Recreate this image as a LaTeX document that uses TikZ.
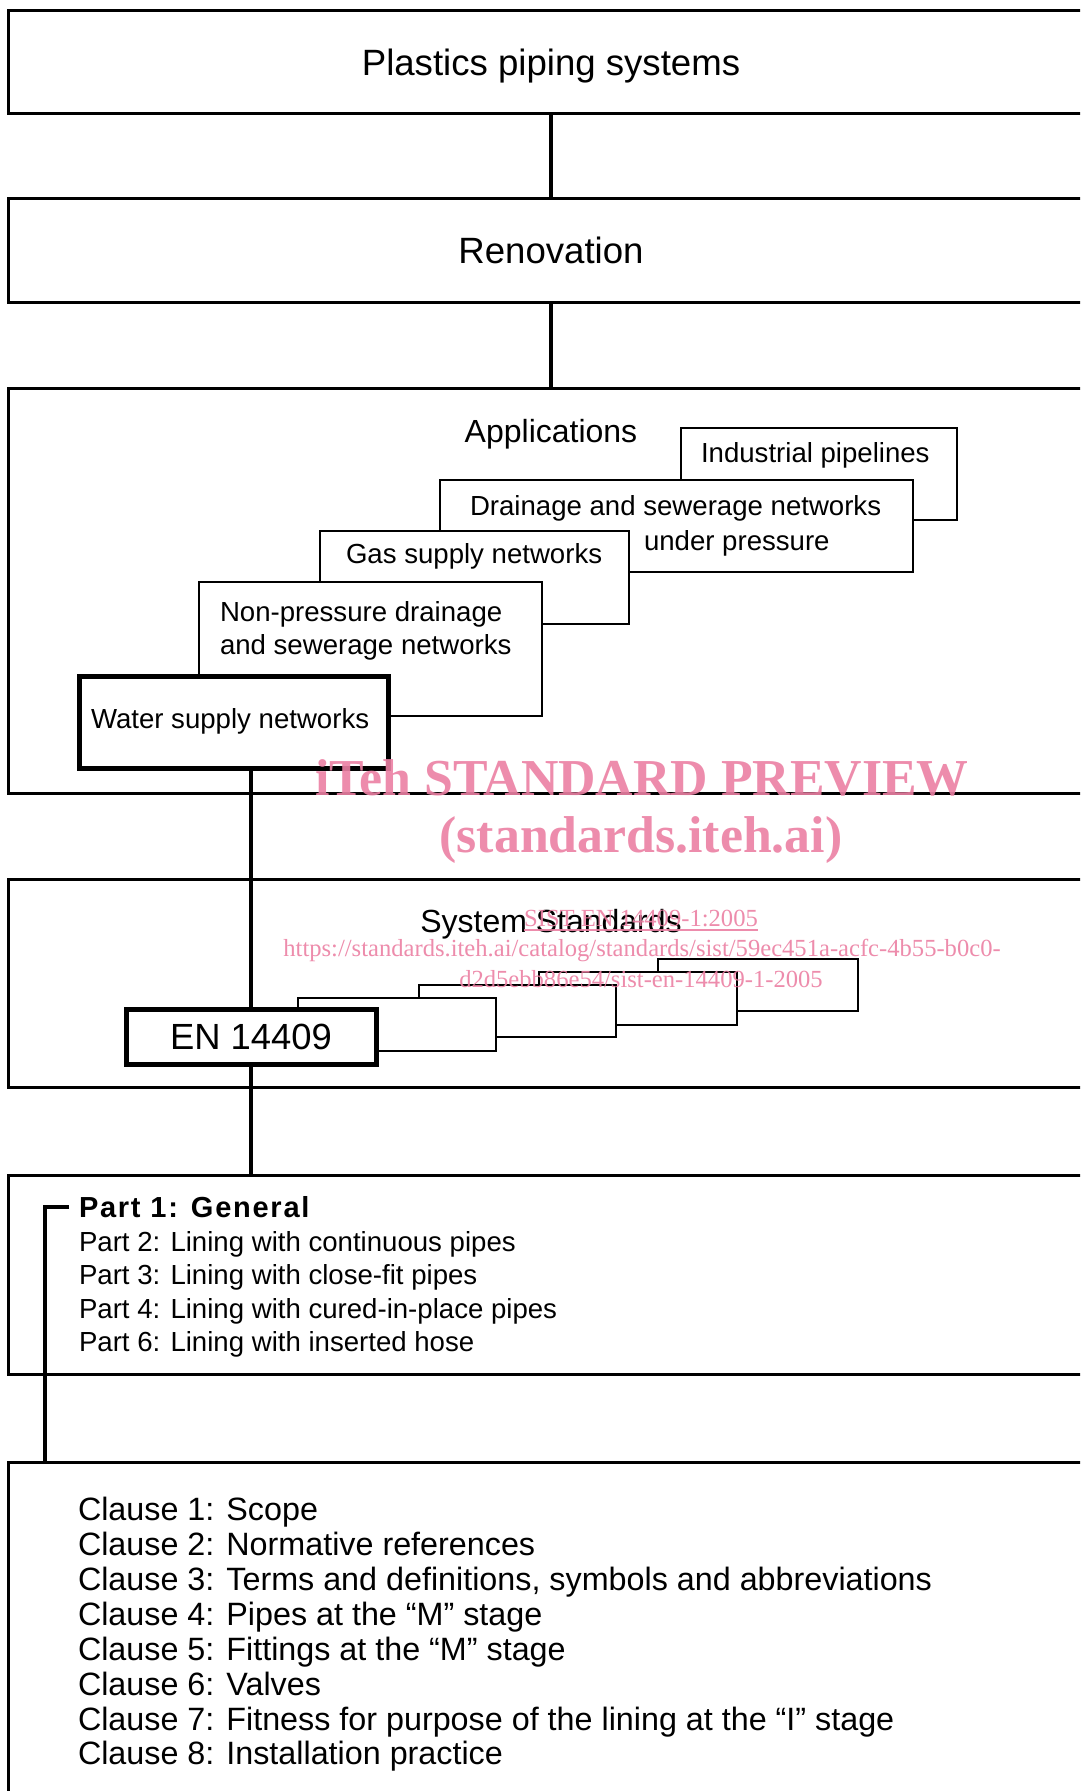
\documentclass[tikz,border=0pt]{standalone}
\usepackage{fontspec}
\setmainfont{Liberation Sans}
\newfontfamily\wmfont{Liberation Serif}
\newfontfamily\spacedsans[LetterSpace=6]{Liberation Sans}
\definecolor{wmpink}{RGB}{236,128,163}

\tikzset{
  mainbox/.style={draw, line width=1.5pt, fill=white, anchor=north west,
    inner sep=0pt, outer sep=0pt, minimum width=543pt},
  appbox/.style={draw, line width=1pt, fill=white, anchor=north west,
    inner sep=0pt, outer sep=0pt},
  keybox/.style={draw, line width=2.5pt, fill=white, anchor=north west,
    inner sep=0pt, outer sep=0pt},
  conn/.style={line width=2pt},
  txt/.style={inner sep=0pt, outer sep=0pt},
  bigtext/.style={txt, font=\fontsize{18.3}{22}\selectfont},
  headtext/.style={txt, font=\fontsize{16}{19}\selectfont},
  smalltext/.style={txt, anchor=base west, font=\fontsize{13.8}{16.5}\selectfont},
  clausetext/.style={txt, anchor=base west, font=\fontsize{16.15}{19}\selectfont},
  wmbig/.style={txt, anchor=base, text=wmpink, text opacity=0.9,
    font=\wmfont\bfseries\fontsize{25.9}{31}\selectfont},
  wmsmall/.style={txt, anchor=base, text=wmpink, text opacity=0.9,
    font=\wmfont\fontsize{12.3}{14.6}\selectfont},
}

\begin{document}
\begin{tikzpicture}[x=0.5pt, y=-0.5pt]
\useasboundingbox (0,0) rectangle (1080,1791);
\fill[white] (0,0) rectangle (1080,1791);
\clip (0,0) rectangle (1080,1791);

% ---- stage boxes ----
\node[mainbox, minimum height=51.5pt] (top) at (8,11) {};
\node[bigtext, anchor=base] (t-top) at (551,75.5) {Plastics piping systems};

\node[mainbox, minimum height=52pt] (reno) at (8,199) {};
\node[bigtext, anchor=base] (t-reno) at (551,264) {Renovation};

\node[mainbox, minimum height=202pt] (apps) at (8,389) {};
\node[headtext, anchor=base] (t-apps) at (551,443) {Applications};

\node[mainbox, minimum height=104pt] (sys) at (8,879) {};
\node[headtext, anchor=base] (t-sys) at (551,932) {System Standards};

\node[mainbox, minimum height=99.5pt] (parts) at (8,1175) {};
\node[mainbox, minimum height=170pt] (clauses) at (8,1462) {};

\draw[conn] (top.south) -- (reno.north);
\draw[conn] (reno.south) -- (apps.north);

% ---- application areas, stacked back to front ----
\node[appbox, minimum width=138pt, minimum height=46pt] (ind) at (681,428) {};
\node[smalltext] (t-ind) at (701,462) {Industrial pipelines};

\node[appbox, minimum width=236.5pt, minimum height=46pt] (drain) at (440,480) {};
\node[smalltext] (t-drain1) at (470,515) {Drainage and sewerage networks};
\node[smalltext] (t-drain2) at (644,550) {under pressure};

\node[appbox, minimum width=154.5pt, minimum height=46.5pt] (gas) at (320,531) {};
\node[smalltext] (t-gas) at (346,563) {Gas supply networks};

\node[appbox, minimum width=171.5pt, minimum height=67pt] (nonp) at (199,582) {};
\node[smalltext] (t-nonp1) at (220,621) {Non-pressure drainage};
\node[smalltext] (t-nonp2) at (220,654) {and sewerage networks};

\node[keybox, minimum width=154.5pt, minimum height=46pt] (water) at (79,676) {};
\node[smalltext] (t-water) at (91,728) {Water supply networks};

% ---- system standards, stacked back to front ----
\node[appbox, minimum width=100pt, minimum height=26pt] (s4) at (658,959) {};
\node[appbox, minimum width=99pt, minimum height=26.5pt] (s3) at (539,972) {};
\node[appbox, minimum width=98.5pt, minimum height=26pt] (s2) at (419,985) {};
\node[appbox, minimum width=99.25pt, minimum height=26.5pt] (s1) at (297.5,998) {};
\node[keybox, minimum width=125pt, minimum height=27.5pt] (en) at (126,1009) {};
\node[bigtext, anchor=base, font=\fontsize{18.2}{22}\selectfont] (t-en) at (251,1049.5) {EN 14409};

\draw[conn] (water.south -| en.north) -- (en.north);
\draw[conn] (en.south) -- (en.south |- parts.north);

% ---- parts ----
\node[smalltext, font=\spacedsans\bfseries\fontsize{14.5}{17}\selectfont] (p1) at (79,1217) {Part 1: General};
\node[smalltext] (p2) at (79,1251) {Part 2: Lining with continuous pipes};
\node[smalltext] (p3) at (79,1284.5) {Part 3: Lining with close-fit pipes};
\node[smalltext] (p4) at (79,1318) {Part 4: Lining with cured-in-place pipes};
\node[smalltext] (p6) at (79,1351.5) {Part 6: Lining with inserted hose};

\coordinate (brk) at (45,1208);
\draw[conn] ([xshift=-5pt]p1.west) -| (clauses.north -| brk);

% ---- clauses ----
\node[clausetext] (c1) at (78,1520.6) {Clause 1: Scope};
\node[clausetext] (c2) at (78,1555.5) {Clause 2: Normative references};
\node[clausetext] (c3) at (78,1590.4) {Clause 3: Terms and definitions, symbols and abbreviations};
\node[clausetext] (c4) at (78,1625.3) {Clause 4: Pipes at the “M” stage};
\node[clausetext] (c5) at (78,1660.2) {Clause 5: Fittings at the “M” stage};
\node[clausetext] (c6) at (78,1695.1) {Clause 6: Valves};
\node[clausetext] (c7) at (78,1730.0) {Clause 7: Fitness for purpose of the lining at the “I” stage};
\node[clausetext] (c8) at (78,1764.9) {Clause 8: Installation practice};

% ---- preview stamp ----
\node[wmbig] (wm1) at (642,795) {iTeh STANDARD PREVIEW};
\node[wmbig] (wm2) at (641,852) {(standards.iteh.ai)};
\node[wmsmall] (wm3) at (641,926) {SIST EN 14409-1:2005};
\draw[wmpink, opacity=0.9, line width=0.7pt]
  ([yshift=-2pt]wm3.base west) -- ([yshift=-2pt]wm3.base east);
\node[wmsmall] (wm4) at (642,956) {https://standards.iteh.ai/catalog/standards/sist/59ec451a-acfc-4b55-b0c0-};
\node[wmsmall] (wm5) at (641,987) {d2d5ebb86e54/sist-en-14409-1-2005};
\end{tikzpicture}
\end{document}
